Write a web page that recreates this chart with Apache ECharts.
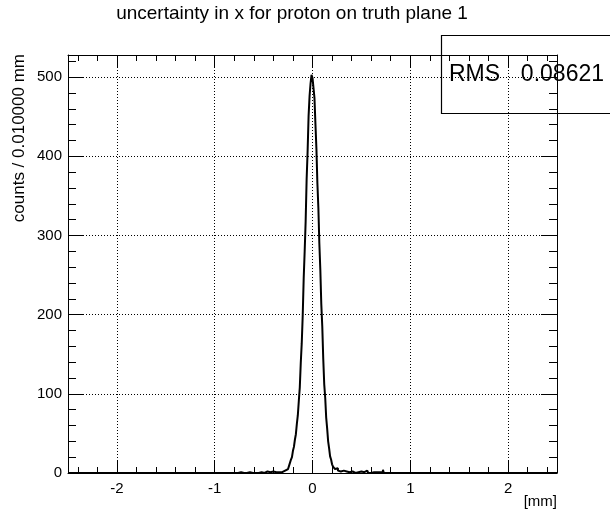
<!DOCTYPE html>
<html>
<head>
<meta charset="utf-8">
<script src="https://cdn.jsdelivr.net/npm/echarts@6/dist/echarts.min.js"></script>
<style>
  html, body { margin: 0; padding: 0; background: #ffffff; }
  #chart { width: 610px; height: 513px; }
</style>
</head>
<body>
<div id="chart"></div>
<script>
// Histogram: uncertainty in x, 0.01 mm bins over [-2.5, 2.5] mm
const binWidth = 0.01;
const xRange = [-2.5, 2.5];
const yMax = 528;

// Counts for the populated bins, starting at lowEdge; every other bin is empty
const lowEdge = -0.80;
const counts = [
  // -0.80 .. -0.26
  0, 0, 0, 0, 0, 0, 1, 0, 0, 0,
  0, 0, 0, 0, 0, 1, 0, 0, 0, 0,
  0, 0, 1, 0, 0, 2, 0, 1, 0, 1,
  0, 1, 0, 2, 1, 0, 1, 0, 1, 2,
  0, 1, 1, 0, 2, 1, 1, 2, 1, 2,
  1, 3, 2, 4, 5,
  // -0.25 .. 0.24
  7, 9, 11, 17, 20, 28, 33, 42, 49, 62,
  73, 91, 108, 139, 164, 199, 246, 280, 318, 371,
  406, 451, 476, 492, 503, 499, 501, 474, 441, 410,
  366, 335, 290, 257, 213, 185, 144, 112, 95, 70,
  56, 40, 31, 21, 17, 11, 8, 6, 5, 4,
  // 0.25 .. 0.79
  6, 3, 4, 2, 3, 2, 3, 1, 2, 2,
  1, 2, 1, 0, 1, 2, 1, 1, 0, 2,
  1, 1, 0, 1, 2, 1, 0, 1, 1, 0,
  3, 1, 0, 1, 0, 1, 0, 1, 0, 0,
  1, 0, 0, 1, 0, 0, 1, 4, 0, 0,
  0, 0, 1, 0, 0
];

const xMajorTicks = [-2, -1, 0, 1, 2];
const yMajorTicks = [0, 100, 200, 300, 400, 500];
const statLabel = 'RMS';
const statValue = '0.08621';
const titleText = 'uncertainty in x for proton on truth plane 1';
const yTitle = 'counts / 0.010000 mm';
const xTitle = '[mm]';

// minor tick positions: 0.2 mm on x, 20 counts on y
const xMinorTicks = [];
for (let k = -12; k <= 12; k++) if (k % 5 !== 0) xMinorTicks.push(Math.round(k * 0.2 * 10) / 10);
const yMinorTicks = [];
for (let v = 20; v < yMax; v += 20) if (v % 100 !== 0) yMinorTicks.push(v);

// step outline: one point per bin low edge
const nBins = Math.round((xRange[1] - xRange[0]) / binWidth);
const firstIdx = Math.round((lowEdge - xRange[0]) / binWidth);
const outline = [];
for (let i = 0; i < nBins; i++) {
  const edge = Math.round((xRange[0] + i * binWidth) * 1000) / 1000;
  const j = i - firstIdx;
  const c = (j >= 0 && j < counts.length) ? counts[j] : 0;
  outline.push([edge, c]);
}
outline.push([xRange[1], 0]);

const FONT = 'Liberation Sans, Arial, Helvetica, sans-serif';
const gridLine = { show: true, lineStyle: { color: '#000', width: 1, type: [1, 2] } };
const frameLine = { show: true, onZero: false, lineStyle: { color: '#000', width: 1 } };
const hiddenLine = { show: false, onZero: false };

function xAx(position, ticks, len, opts) {
  return Object.assign({
    type: 'value', position: position, min: xRange[0], max: xRange[1],
    axisLine: hiddenLine,
    axisTick: { show: true, inside: true, length: len, customValues: ticks, lineStyle: { color: '#000', width: 1 } },
    axisLabel: { show: false },
    splitLine: { show: false }
  }, opts || {});
}
function yAx(position, ticks, len, opts) {
  return Object.assign({
    type: 'value', position: position, min: 0, max: yMax,
    axisLine: hiddenLine,
    axisTick: { show: true, inside: true, length: len, customValues: ticks, lineStyle: { color: '#000', width: 1 } },
    axisLabel: { show: false },
    splitLine: { show: false }
  }, opts || {});
}

const chart = echarts.init(document.getElementById('chart'), null, { renderer: 'canvas' });
chart.setOption({
  animation: false,
  backgroundColor: '#ffffff',
  grid: { left: 68, right: 53, top: 55, bottom: 40, containLabel: false },
  xAxis: [
    xAx('bottom', xMajorTicks, 13, {
      axisLine: frameLine,
      axisLabel: { show: true, customValues: xMajorTicks, margin: 8, fontFamily: FONT, fontSize: 15, color: '#000' },
      splitLine: gridLine
    }),
    xAx('bottom', xMinorTicks, 6),
    xAx('top', xMajorTicks, 13, { axisLine: frameLine }),
    xAx('top', xMinorTicks, 6)
  ],
  yAxis: [
    yAx('left', yMajorTicks, 16, {
      axisLine: frameLine,
      axisLabel: { show: true, customValues: yMajorTicks, margin: 6, fontFamily: FONT, fontSize: 15, color: '#000' },
      splitLine: gridLine
    }),
    yAx('left', yMinorTicks, 8),
    yAx('right', yMajorTicks, 16, { axisLine: frameLine }),
    yAx('right', yMinorTicks, 8)
  ],
  series: [{
    type: 'line',
    xAxisIndex: 0, yAxisIndex: 0,
    data: outline,
    step: 'end',
    showSymbol: false,
    symbol: 'none',
    clip: true,
    lineStyle: { color: '#000', width: 2 },
    z: 5
  }],
  graphic: [
    {
      type: 'text', x: 292, y: 14,
      style: { text: titleText, fontFamily: FONT, fontSize: 19, fill: '#000', align: 'center', verticalAlign: 'middle' }
    },
    {
      type: 'text', x: 19, y: 54, rotation: Math.PI / 2,
      style: { text: yTitle, fontFamily: FONT, fontSize: 17, fill: '#000', align: 'right', verticalAlign: 'middle' }
    },
    {
      type: 'text', x: 557, y: 502,
      style: { text: xTitle, fontFamily: FONT, fontSize: 15, fill: '#000', align: 'right', verticalAlign: 'middle' }
    },
    {
      type: 'group', z: 20,
      children: [
        { type: 'rect', shape: { x: 441.5, y: 35.5, width: 200, height: 78 },
          style: { fill: '#fff', stroke: '#000', lineWidth: 1.2 } },
        { type: 'text', x: 449, y: 75,
          style: { text: statLabel, fontFamily: FONT, fontSize: 23, fill: '#000', align: 'left', verticalAlign: 'middle' } },
        { type: 'text', x: 604, y: 75,
          style: { text: statValue, fontFamily: FONT, fontSize: 23, fill: '#000', align: 'right', verticalAlign: 'middle' } }
      ]
    }
  ]
});
</script>
</body>
</html>
